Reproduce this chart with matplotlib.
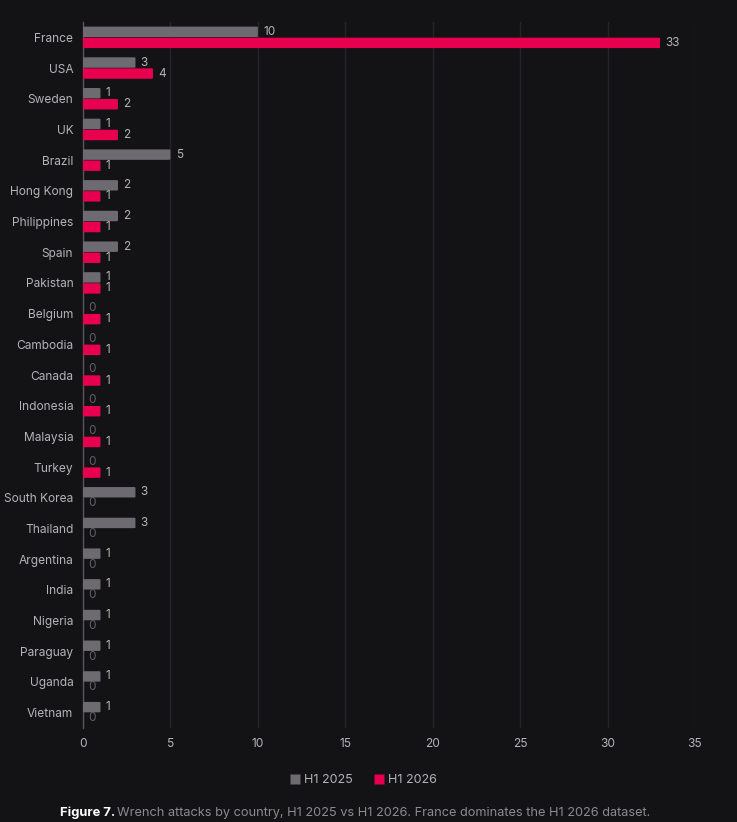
import numpy as np
import matplotlib.pyplot as plt
from matplotlib.patches import FancyBboxPatch
from matplotlib.lines import Line2D

countries = ['France', 'USA', 'Sweden', 'UK', 'Brazil', 'Hong Kong', 'Philippines', 'Spain',
             'Pakistan', 'Belgium', 'Cambodia', 'Canada', 'Indonesia', 'Malaysia', 'Turkey',
             'South Korea', 'Thailand', 'Argentina', 'India', 'Nigeria', 'Paraguay', 'Uganda', 'Vietnam']
h1_2025 = [10, 3, 1, 1, 5, 2, 2, 2, 1, 0, 0, 0, 0, 0, 0, 3, 3, 1, 1, 1, 1, 1, 1]
h1_2026 = [33, 4, 2, 2, 1, 1, 1, 1, 1, 1, 1, 1, 1, 1, 1, 0, 0, 0, 0, 0, 0, 0, 0]

bg = '#131316'
c25 = '#6e6a72'
c26 = '#e8004e'
txt = '#b4b4b8'
dim = '#606066'

plt.rcParams['font.family'] = ['Inter', 'DejaVu Sans']

fig = plt.figure(figsize=(7.37, 8.22), dpi=100, facecolor=bg)
ax = fig.add_axes([83 / 737, 1 - 728 / 822, (695 - 83) / 737, (728 - 22) / 822], facecolor=bg)

n = len(countries)
y = np.arange(n)
bh = 0.34
gap = 0.02


def rbar(x0, yc, w, color):
    if w <= 0:
        return
    p = FancyBboxPatch((x0, yc - bh / 2), w, bh, boxstyle='round,pad=0,rounding_size=0.08',
                       mutation_aspect=1 / 3.0, facecolor=color, edgecolor='none', zorder=3)
    ax.add_patch(p)


for i in range(n):
    y25 = y[i] - bh / 2 - gap / 2
    y26 = y[i] + bh / 2 + gap / 2
    rbar(0, y25, h1_2025[i], c25)
    rbar(0, y26, h1_2026[i], c26)
    for v, yy in ((h1_2025[i], y25), (h1_2026[i], y26)):
        ax.text(v + 0.3, yy, str(v), color=txt if v > 0 else dim, fontsize=8.5,
                va='center', ha='left', zorder=4)

ax.set_xlim(0, 35)
ax.set_ylim(n - 0.5, -0.5)
ax.set_yticks(y)
ax.set_yticklabels(countries)
ax.set_xticks(np.arange(0, 36, 5))
ax.tick_params(axis='both', length=0, colors=txt, labelsize=8.6)
ax.tick_params(axis='y', pad=7)
ax.tick_params(axis='x', pad=7)
ax.grid(axis='x', color='#252529', linewidth=1, zorder=0)
for s in ['top', 'right', 'bottom']:
    ax.spines[s].set_visible(False)
ax.spines['left'].set_color('#55555a')
ax.spines['left'].set_linewidth(1)

handles = [Line2D([], [], marker='s', linestyle='none', markersize=7, markerfacecolor=c25,
                  markeredgecolor='none', label='H1 2025'),
           Line2D([], [], marker='s', linestyle='none', markersize=7, markerfacecolor=c26,
                  markeredgecolor='none', label='H1 2026')]
leg = fig.legend(handles=handles, loc='center', bbox_to_anchor=(363 / 737, 1 - 780 / 822), ncol=2,
                 frameon=False, fontsize=9, handletextpad=0.2, columnspacing=1.6, handlelength=1)
for t in leg.get_texts():
    t.set_color(txt)

fig.text(60 / 737, 1 - 813 / 822, 'Figure 7.', color='white', fontsize=9.3, fontweight='bold',
         va='center', ha='left')
fig.text(117 / 737, 1 - 813 / 822,
         'Wrench attacks by country, H1 2025 vs H1 2026. France dominates the H1 2026 dataset.',
         color='#8a8a90', fontsize=9.2, va='center', ha='left')

fig.savefig('out.png', dpi=100, facecolor=bg)
